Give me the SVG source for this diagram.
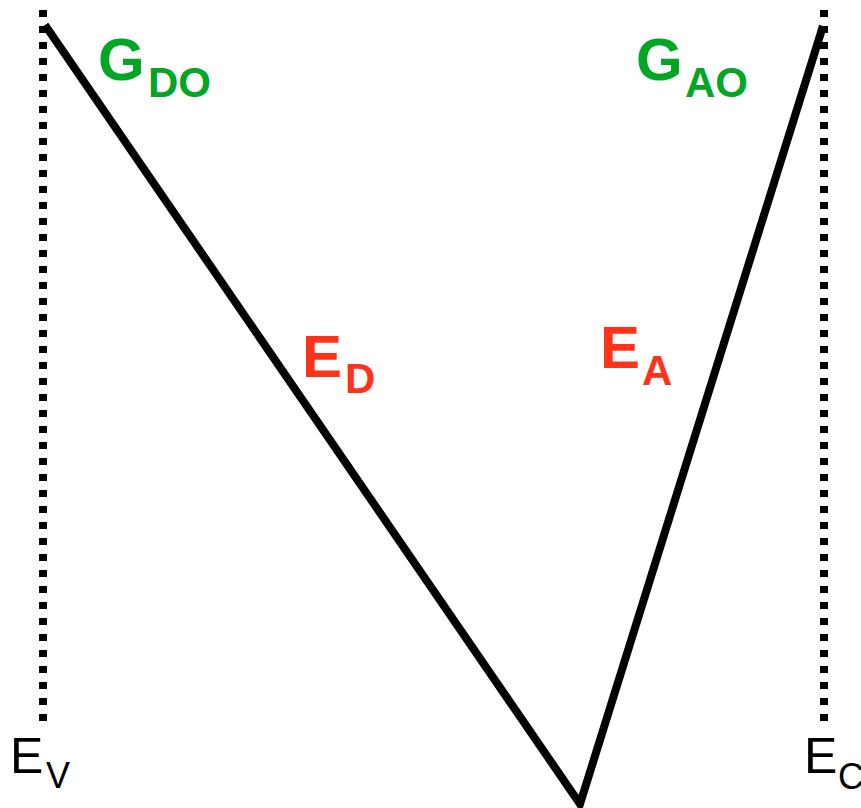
<svg xmlns="http://www.w3.org/2000/svg" width="861" height="808" viewBox="0 0 861 808">
<style>
.dot{stroke:#000;stroke-width:8;stroke-dasharray:7 9;fill:none}
.v{stroke:#000;stroke-width:8;fill:none;stroke-linejoin:miter;stroke-miterlimit:20}
.g{fill:#00A624;font-family:"Liberation Sans",Arial,sans-serif;font-weight:bold}
.r{fill:#FF3319;font-family:"Liberation Sans",Arial,sans-serif;font-weight:bold}
.k{fill:#000;font-family:"Liberation Sans",Arial,sans-serif}
.big{font-size:60px}
.sub{font-size:42px}
</style>
<g id="connectors">
<line class="dot" x1="43" y1="10" x2="43" y2="722"/>
<line class="dot" x1="824" y1="10" x2="824" y2="722"/>
<polyline class="v" points="45,25 580,804 823,26"/>
</g>
<g id="GDO"><text class="g big" x="98" y="80">G</text><text class="g sub" x="148" y="97">DO</text></g>
<g id="GAO"><text class="g big" x="636" y="80">G</text><text class="g sub" x="685" y="97">AO</text></g>
<g id="ED"><text class="r big" x="302" y="377">E</text><text class="r sub" x="345" y="393">D</text></g>
<g id="EA"><text class="r big" x="600" y="368">E</text><text class="r sub" x="642" y="385">A</text></g>
<g id="EV"><text class="k" font-size="50" x="10" y="773">E</text><text class="k" font-size="36" x="46" y="788">V</text></g>
<g id="EC"><text class="k" font-size="50" x="804" y="773">E</text><text class="k" font-size="36" x="838" y="789">C</text></g>
</svg>
